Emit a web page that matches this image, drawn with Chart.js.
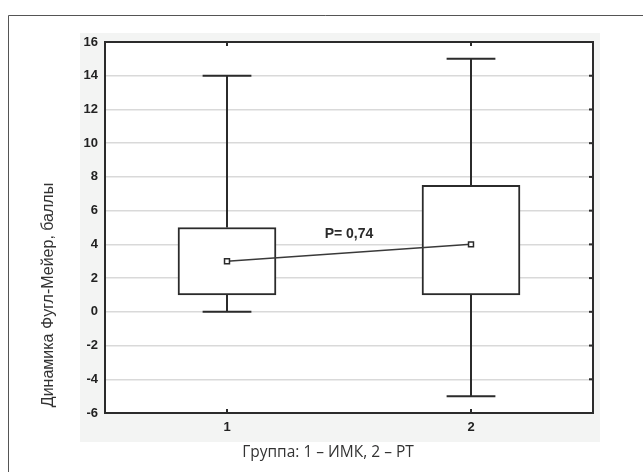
<!DOCTYPE html>
<html>
<head>
<meta charset="utf-8">
<script src="https://cdn.jsdelivr.net/npm/chart.js@4"></script>
<style>
  html, body { margin: 0; padding: 0; background: #fff; }
  #wrap { width: 643px; height: 472px; position: relative; }
</style>
</head>
<body>
<div id="wrap"><canvas id="box"></canvas></div>
<script>
// Box plot data
var groups = [1, 2];
var groupLabels = ['1', '2'];
var whiskerLow = [0, -5];
var quartileLow = [1, 1];
var quartileHigh = [5, 7.5];
var whiskerHigh = [14, 15];
var medians = [3, 4];
var yTicks = [16, 14, 12, 10, 8, 6, 4, 2, 0, -2, -4, -6];
var pLabel = 'P= 0,74';
var pLabelPos = { x: 1.5, y: 4.6 };
var xTitle = 'Группа: 1 – ИМК, 2 – РТ';
var yTitle = 'Динамика Фугл-Мейер, баллы';

var capHalf = 0.1;   // in x units

// Whiskers: vertical parts + caps, separated by nulls
var whiskerData = [];
groups.forEach(function(g, i) {
    whiskerData.push({x: g, y: quartileHigh[i]}, {x: g, y: whiskerHigh[i]}, {x: g, y: null});
    whiskerData.push({x: g - capHalf, y: whiskerHigh[i]}, {x: g + capHalf, y: whiskerHigh[i]}, {x: g, y: null});
    whiskerData.push({x: g, y: quartileLow[i]}, {x: g, y: whiskerLow[i]}, {x: g, y: null});
    whiskerData.push({x: g - capHalf, y: whiskerLow[i]}, {x: g + capHalf, y: whiskerLow[i]}, {x: g, y: null});
});

var boxData = groups.map(function(g, i) { return {x: g, y: [quartileLow[i], quartileHigh[i]]}; });
var medianData = groups.map(function(g, i) { return {x: g, y: medians[i]}; });

// Background panel, frame, plot border and texts
var decorPlugin = {
    id: 'decor',
    beforeDraw: function(chart) {
        var c = chart.ctx, a = chart.chartArea;
        c.save();
        c.fillStyle = '#fff';
        c.fillRect(0, 0, chart.width, chart.height);
        c.strokeStyle = '#555';
        c.lineWidth = 1;
        c.beginPath();
        c.moveTo(8.5, chart.height);
        c.lineTo(8.5, 15.5);
        c.lineTo(chart.width, 15.5);
        c.stroke();
        c.fillStyle = '#f3f4f3';
        c.fillRect(80, 33, 520, 409);
        c.fillStyle = '#fff';
        c.fillRect(a.left, a.top, a.right - a.left, a.bottom - a.top);
        c.restore();
    },
    afterDraw: function(chart) {
        var c = chart.ctx, a = chart.chartArea;
        var xs = chart.scales.x, ys = chart.scales.y;
        c.save();
        c.strokeStyle = '#2b2b2b';
        c.lineWidth = 2;
        c.strokeRect(a.left, a.top, a.right - a.left, a.bottom - a.top);
        // small tick stubs on the right and top
        yTicks.forEach(function(v) {
            var py = ys.getPixelForValue(v);
            c.beginPath(); c.moveTo(a.right - 4, py); c.lineTo(a.right, py); c.stroke();
        });
        groups.forEach(function(g) {
            var px = xs.getPixelForValue(g);
            c.beginPath(); c.moveTo(px, a.top); c.lineTo(px, a.top + 4); c.stroke();
            c.beginPath(); c.moveTo(px, a.bottom); c.lineTo(px, a.bottom - 4); c.stroke();
        });
        // p-value label
        c.fillStyle = '#2b2b2b';
        c.font = 'bold 14px "Liberation Sans", Arial, sans-serif';
        c.textAlign = 'center';
        c.textBaseline = 'middle';
        c.fillText(pLabel, xs.getPixelForValue(pLabelPos.x), ys.getPixelForValue(pLabelPos.y));
        // axis titles
        c.font = '15.5px "Open Sans", Lato, sans-serif';
        c.fillStyle = '#333';
        c.fillText(xTitle, 328, 453);
        c.translate(49, 295);
        c.rotate(-Math.PI / 2);
        c.font = '16px "Liberation Sans", Arial, sans-serif';
        c.fillText(yTitle, 0, 0);
        c.restore();
    }
};

var ctx = document.getElementById('box').getContext('2d');
var myChart = new Chart(ctx, {
    type: 'bar',
    data: {
        datasets: [{
            type: 'bar',
            data: boxData,
            backgroundColor: '#fff',
            borderColor: '#2b2b2b',
            borderWidth: 2,
            borderSkipped: false,
            barThickness: 98,
            order: 2
        }, {
            type: 'line',
            data: whiskerData,
            borderColor: '#2b2b2b',
            borderWidth: 2,
            pointRadius: 0,
            spanGaps: false,
            fill: false,
            order: 3
        }, {
            type: 'line',
            data: medianData,
            borderColor: '#3a3a3a',
            borderWidth: 1.5,
            pointStyle: 'rect',
            pointRadius: 3.5,
            pointBackgroundColor: '#fff',
            pointBorderColor: '#2b2b2b',
            pointBorderWidth: 1.5,
            fill: false,
            order: 1
        }]
    },
    options: {
        responsive: true,
        maintainAspectRatio: false,
        animation: false,
        layout: {
            padding: { left: 0, right: 50, top: 42, bottom: 0 }
        },
        scales: {
            x: {
                type: 'linear',
                min: 0.5,
                max: 2.5,
                offset: false,
                afterBuildTicks: function(scale) {
                    scale.ticks = groups.map(function(g) { return {value: g}; });
                },
                afterFit: function(scale) { scale.height = 59; },
                ticks: {
                    padding: 7,
                    color: '#222',
                    font: { family: '"Liberation Sans", Arial, sans-serif', size: 13, weight: 'bold' },
                    callback: function(v) { return groupLabels[groups.indexOf(v)]; }
                },
                grid: { display: false, drawTicks: false, offset: false },
                border: { display: false }
            },
            y: {
                min: -6,
                max: 16,
                afterBuildTicks: function(scale) {
                    scale.ticks = yTicks.map(function(v) { return {value: v}; });
                },
                afterFit: function(scale) { scale.width = 105; },
                ticks: {
                    padding: 7,
                    color: '#222',
                    font: { family: '"Liberation Sans", Arial, sans-serif', size: 13, weight: 'bold' }
                },
                grid: { color: '#d9d9d9', lineWidth: 1.5, drawTicks: false },
                border: { display: false }
            }
        },
        plugins: {
            legend: { display: false },
            tooltip: { enabled: false }
        }
    },
    plugins: [decorPlugin]
});
</script>
</body>
</html>
